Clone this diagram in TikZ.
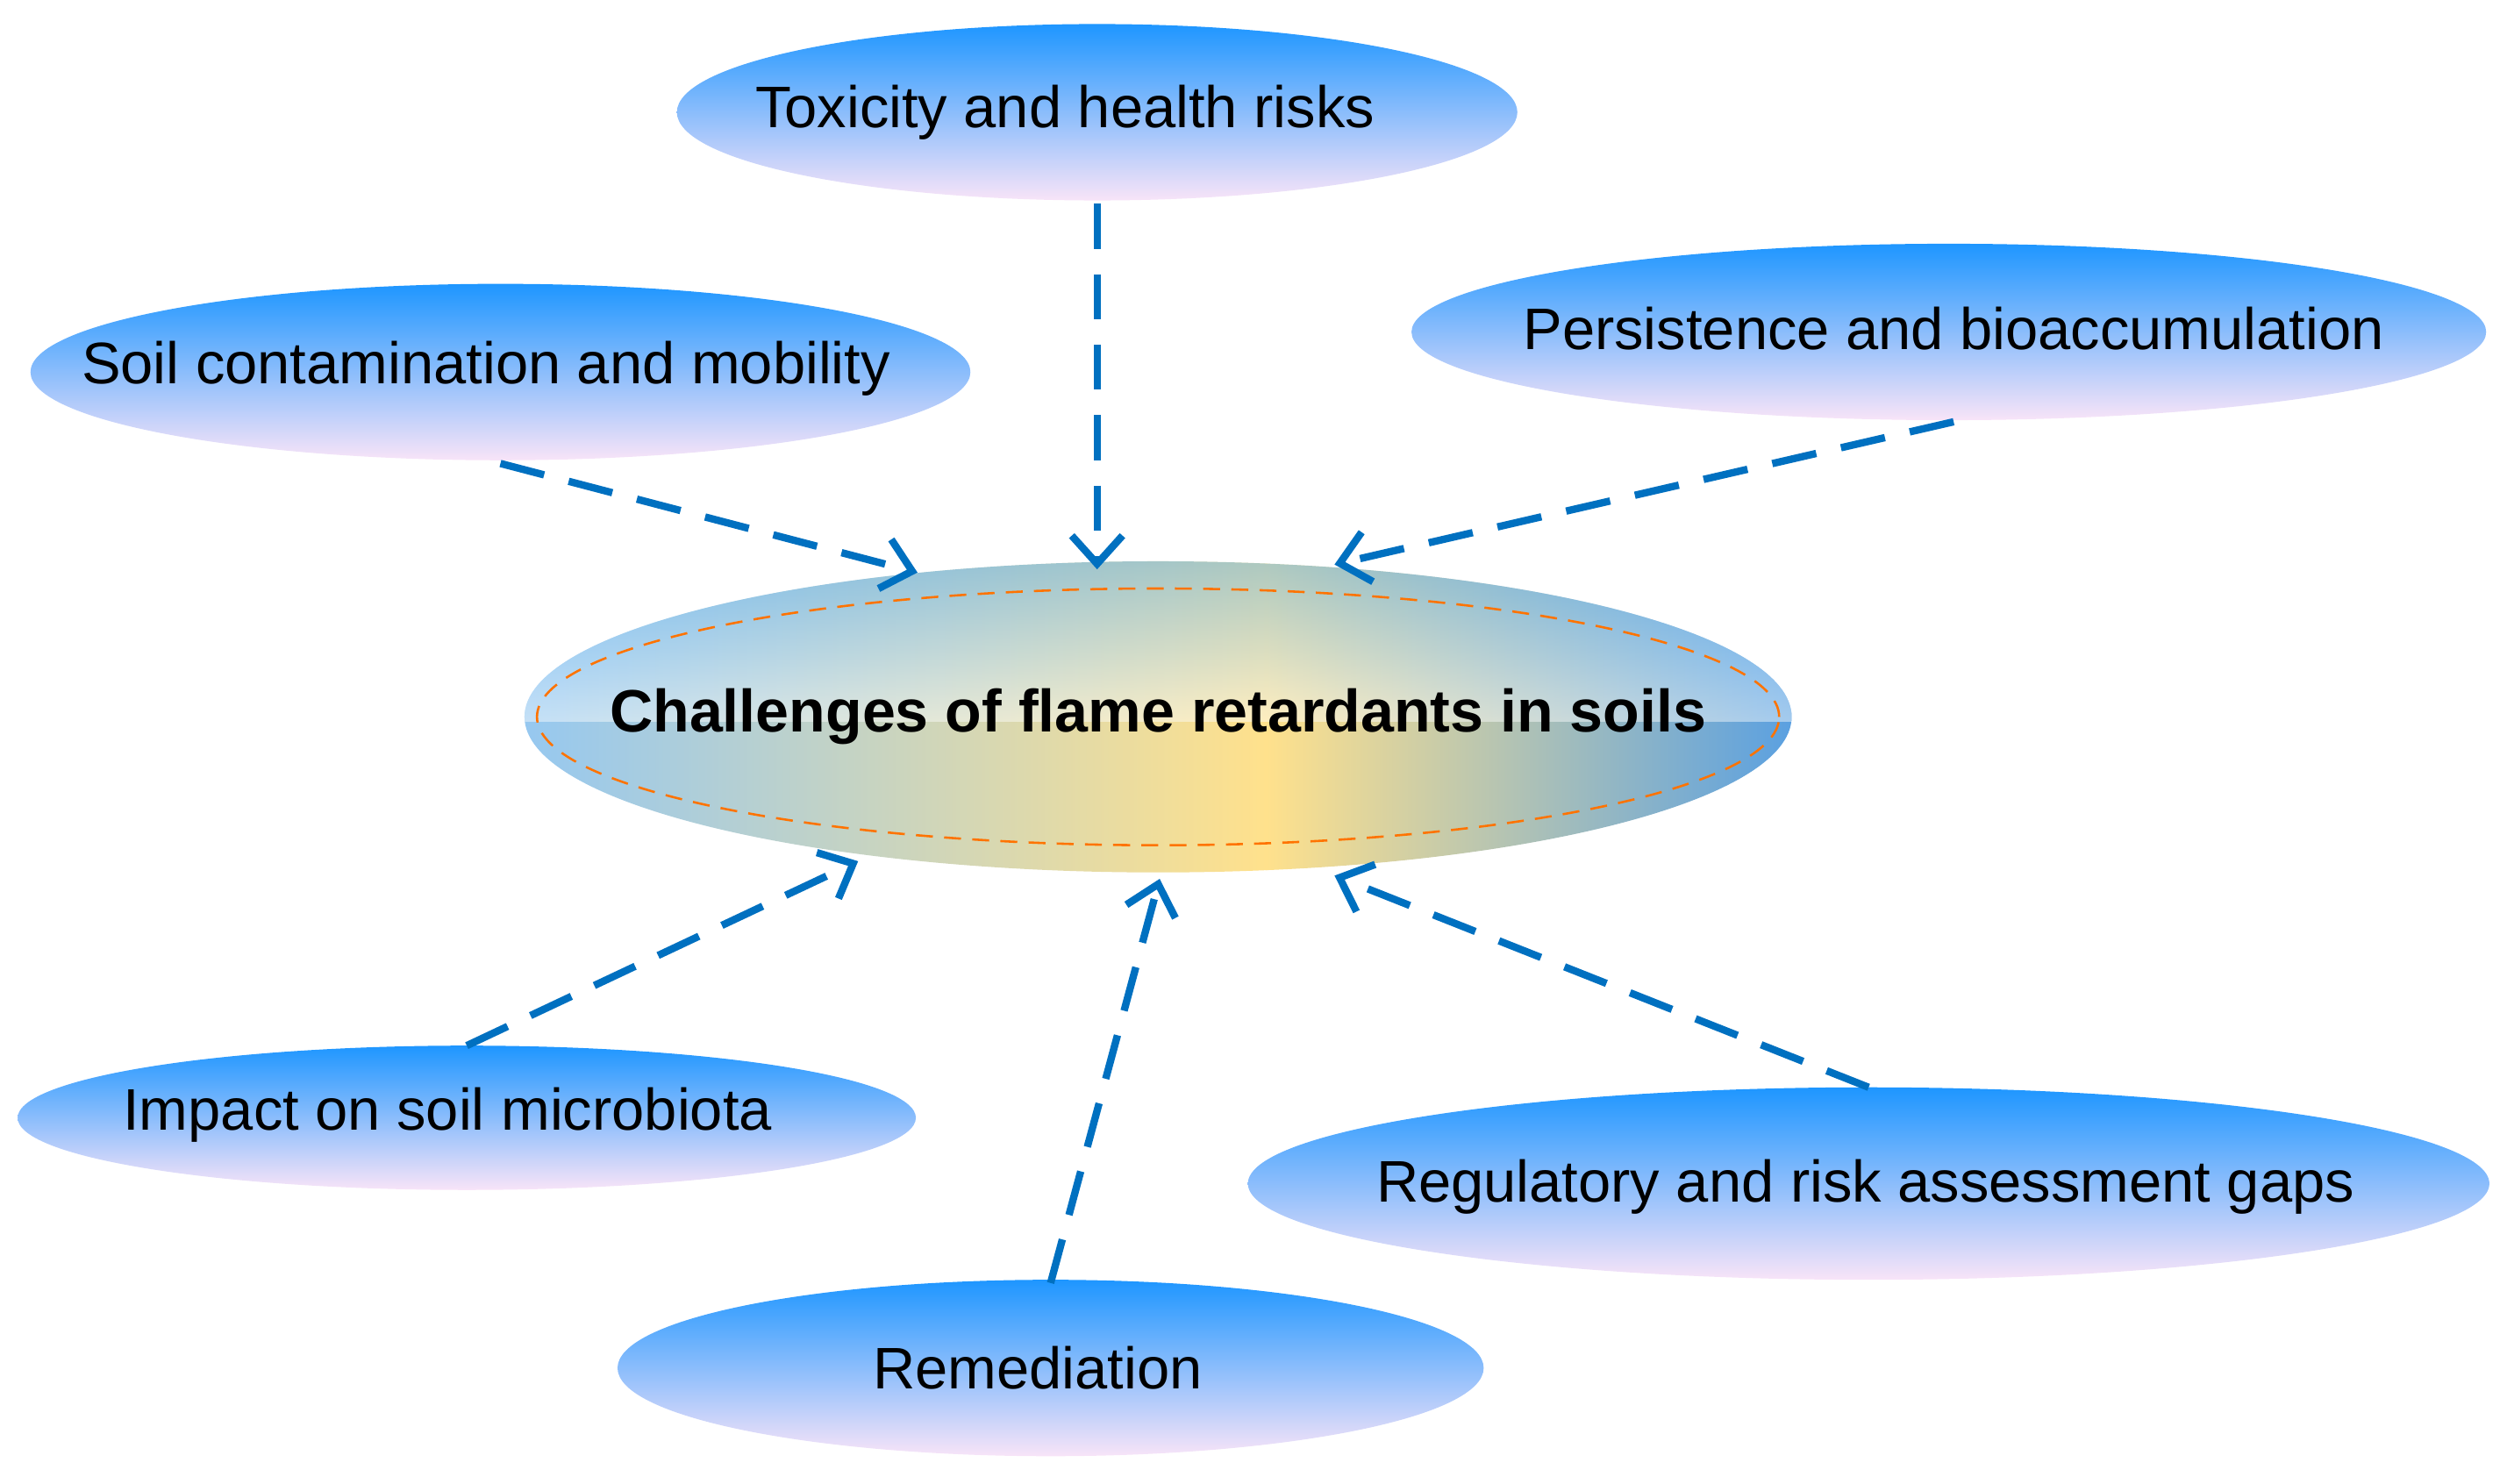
\documentclass[tikz,border=0pt]{standalone}
\usepackage{fontspec}
\setmainfont{Liberation Sans}
\usetikzlibrary{shapes.geometric,arrows.meta}
\definecolor{arr}{RGB}{0,112,192}
\definecolor{topb}{RGB}{30,150,255}
\definecolor{botp}{RGB}{248,228,248}
\definecolor{lb}{RGB}{150,200,240}
\definecolor{yl}{RGB}{255,225,140}
\definecolor{rb}{RGB}{90,160,225}
\begin{document}
\begin{tikzpicture}[x=0.01cm,y=-0.01cm,
 bub/.style={top color=topb,bottom color=botp,draw=none},
 lab/.style={inner sep=0pt,font=\fontsize{10.4}{12}\selectfont},
 con/.style={draw=arr,line width=1.3pt,dash pattern=on 8pt off 4.5pt,-{Straight Barb[length=5pt,width=9pt,line width=1.3pt]}}]
\useasboundingbox (0,0) rectangle (1563,925);
\path[bub] (684,70) ellipse [x radius=262,y radius=55];
\node[lab] (tox) at (664,70) {Toxicity and health risks};
\path[bub] (312,232) ellipse [x radius=293,y radius=55];
\node[lab] (soil) at (303,230) {Soil contamination and mobility};
\path[bub] (1215,207) ellipse [x radius=335,y radius=55];
\node[lab] (pers) at (1218,205) {Persistence and bioaccumulation};
\path[bub] (291,697) ellipse [x radius=280,y radius=45];
\node[lab] (imp) at (279,695) {Impact on soil microbiota};
\path[bub] (655,853) ellipse [x radius=270,y radius=55];
\node[lab] (rem) at (647,853) {Remediation};
\path[bub] (1165,738) ellipse [x radius=387,y radius=60];
\node[lab] (reg) at (1163,740) {Regulatory and risk assessment gaps};
\begin{scope}
\clip (722,447) ellipse [x radius=395,y radius=97];
\shade[left color=lb,right color=yl] (327,350) rectangle (790,545);
\shade[left color=yl,right color=rb] (789,350) rectangle (1118,545);
\shade[top color=topb!80,bottom color=white,opacity=0.45] (327,350) rectangle (1118,450);
\end{scope}
\node[ellipse,inner sep=0pt,minimum width=7.74cm,minimum height=1.6cm,draw=orange!90!red,dash pattern=on 3pt off 2pt,thin] (c) at (722,447) {};
\node[lab,font=\fontsize{10.6}{12}\selectfont\bfseries] (ct) at (722,447) {Challenges of flame retardants in soils};
\coordinate (t1) at (684,127); \coordinate (t2) at (684,355);
\coordinate (s1) at (312,289); \coordinate (s2) at (572,357);
\coordinate (p1) at (1218,263); \coordinate (p2) at (832,352);
\coordinate (i1) at (291,652); \coordinate (i2) at (535,537);
\coordinate (r1) at (655,800); \coordinate (r2) at (723,548);
\coordinate (g1) at (1165,678); \coordinate (g2) at (832,546);
\draw[con] (t1) -- (t2);
\draw[con] (s1) -- (s2);
\draw[con] (p1) -- (p2);
\draw[con] (i1) -- (i2);
\draw[con] (r1) -- (r2);
\draw[con] (g1) -- (g2);
\end{tikzpicture}
\end{document}
